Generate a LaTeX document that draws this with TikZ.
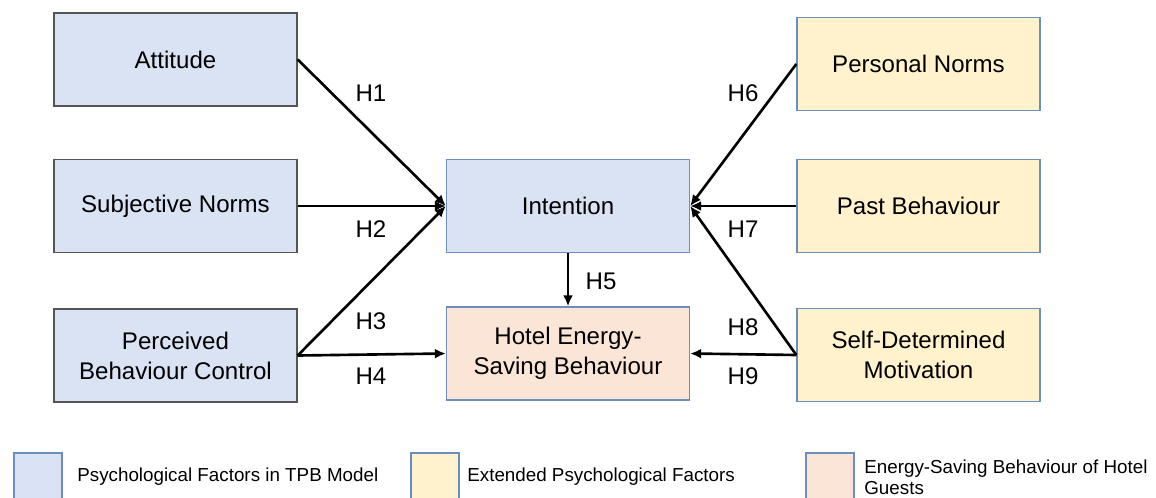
\documentclass[tikz,border=0pt]{standalone}
\usepackage{fontspec}
\setmainfont{Liberation Sans}
\usepackage{tikz}
\usetikzlibrary{arrows.meta}
\usetikzlibrary{positioning}
\definecolor{tpb-blue}{HTML}{DAE3F3}
\definecolor{ext-yellow}{HTML}{FFF2CC}
\definecolor{hotel-peach}{HTML}{FBE5D6}
\definecolor{frame-blue}{HTML}{6C8EBF}
\definecolor{frame-grey}{HTML}{555555}
\tikzset{
  factor/.style={draw=frame-blue, line width=0.8pt, minimum width=4.86cm, minimum height=1.86cm,
    inner sep=0pt, align=center, font=\fontsize{13.7}{17}\selectfont},
  hyp/.style={font=\fontsize{13.7}{17}\selectfont, inner sep=0pt},
  path/.style={-{Latex[length=2.2mm, width=2mm]}, line width=1.5pt},
  legbox/.style={draw=frame-blue, line width=0.8pt, minimum width=0.96cm, minimum height=1.2cm, inner sep=0pt},
  legtext/.style={anchor=west, align=left, inner sep=0pt, font=\fontsize{10.7}{11.5}\selectfont}
}

\begin{document}
\begin{tikzpicture}[x=0.02cm, y=-0.02cm]

    \clip (0,0) rectangle (1156,497);

    % TPB factors
    \node[factor, fill=tpb-blue, draw=frame-grey] (att) at (175.5,59.5) {Attitude};
    \node[factor, fill=tpb-blue, draw=frame-grey] (sn) at (175.5,206) {Subjective Norms};
    \node[factor, fill=tpb-blue, draw=frame-grey] (pbc) at (175.5,355.5) {Perceived\\Behaviour Control};

    % centre
    \node[factor, fill=tpb-blue] (int) at (568,206) {Intention};
    \node[factor, fill=hotel-peach] (hesb) at (568,353.5) {Hotel Energy-\\Saving Behaviour};

    % extended factors
    \node[factor, fill=ext-yellow] (pn) at (918.5,64) {Personal Norms};
    \node[factor, fill=ext-yellow] (pb) at (918.5,206) {Past Behaviour};
    \node[factor, fill=ext-yellow] (sdm) at (918.5,355) {Self-Determined\\Motivation};

    % hypotheses
    \draw[path] (att.east) -- (int.west);
    \draw[path] (sn.east) -- (int.west);
    \draw[path] (pbc.east) -- (int.west);
    \draw[path] (pbc.east) -- (hesb.west);
    \draw[path] (int.south) -- (hesb.north);
    \draw[path] (pn.west) -- (int.east);
    \draw[path] (pb.west) -- (int.east);
    \draw[path] (sdm.west) -- (int.east);
    \draw[path] (sdm.west) -- (hesb.east);

    \node[hyp] (h1) at (371,93) {H1};
    \node[hyp] (h2) at (371,229) {H2};
    \node[hyp] (h3) at (371,321) {H3};
    \node[hyp] (h4) at (371,376) {H4};
    \node[hyp] (h5) at (601,281) {H5};
    \node[hyp] (h6) at (743,93) {H6};
    \node[hyp] (h7) at (743,229) {H7};
    \node[hyp] (h8) at (743,327) {H8};
    \node[hyp] (h9) at (743,376) {H9};

    % legend
    \node[legbox, fill=tpb-blue] (leg1) at (38,483) {};
    \node[legbox, fill=ext-yellow] (leg2) at (435,483) {};
    \node[legbox, fill=hotel-peach] (leg3) at (830,483) {};
    \node[legtext] (lt1) at (77,477) {Psychological Factors in TPB Model};
    \node[legtext] (lt2) at (467,477) {Extended Psychological Factors};
    \node[legtext, anchor=north west] (lt3) at (864,460) {Energy-Saving Behaviour of Hotel\\Guests};

\end{tikzpicture}
\end{document}
